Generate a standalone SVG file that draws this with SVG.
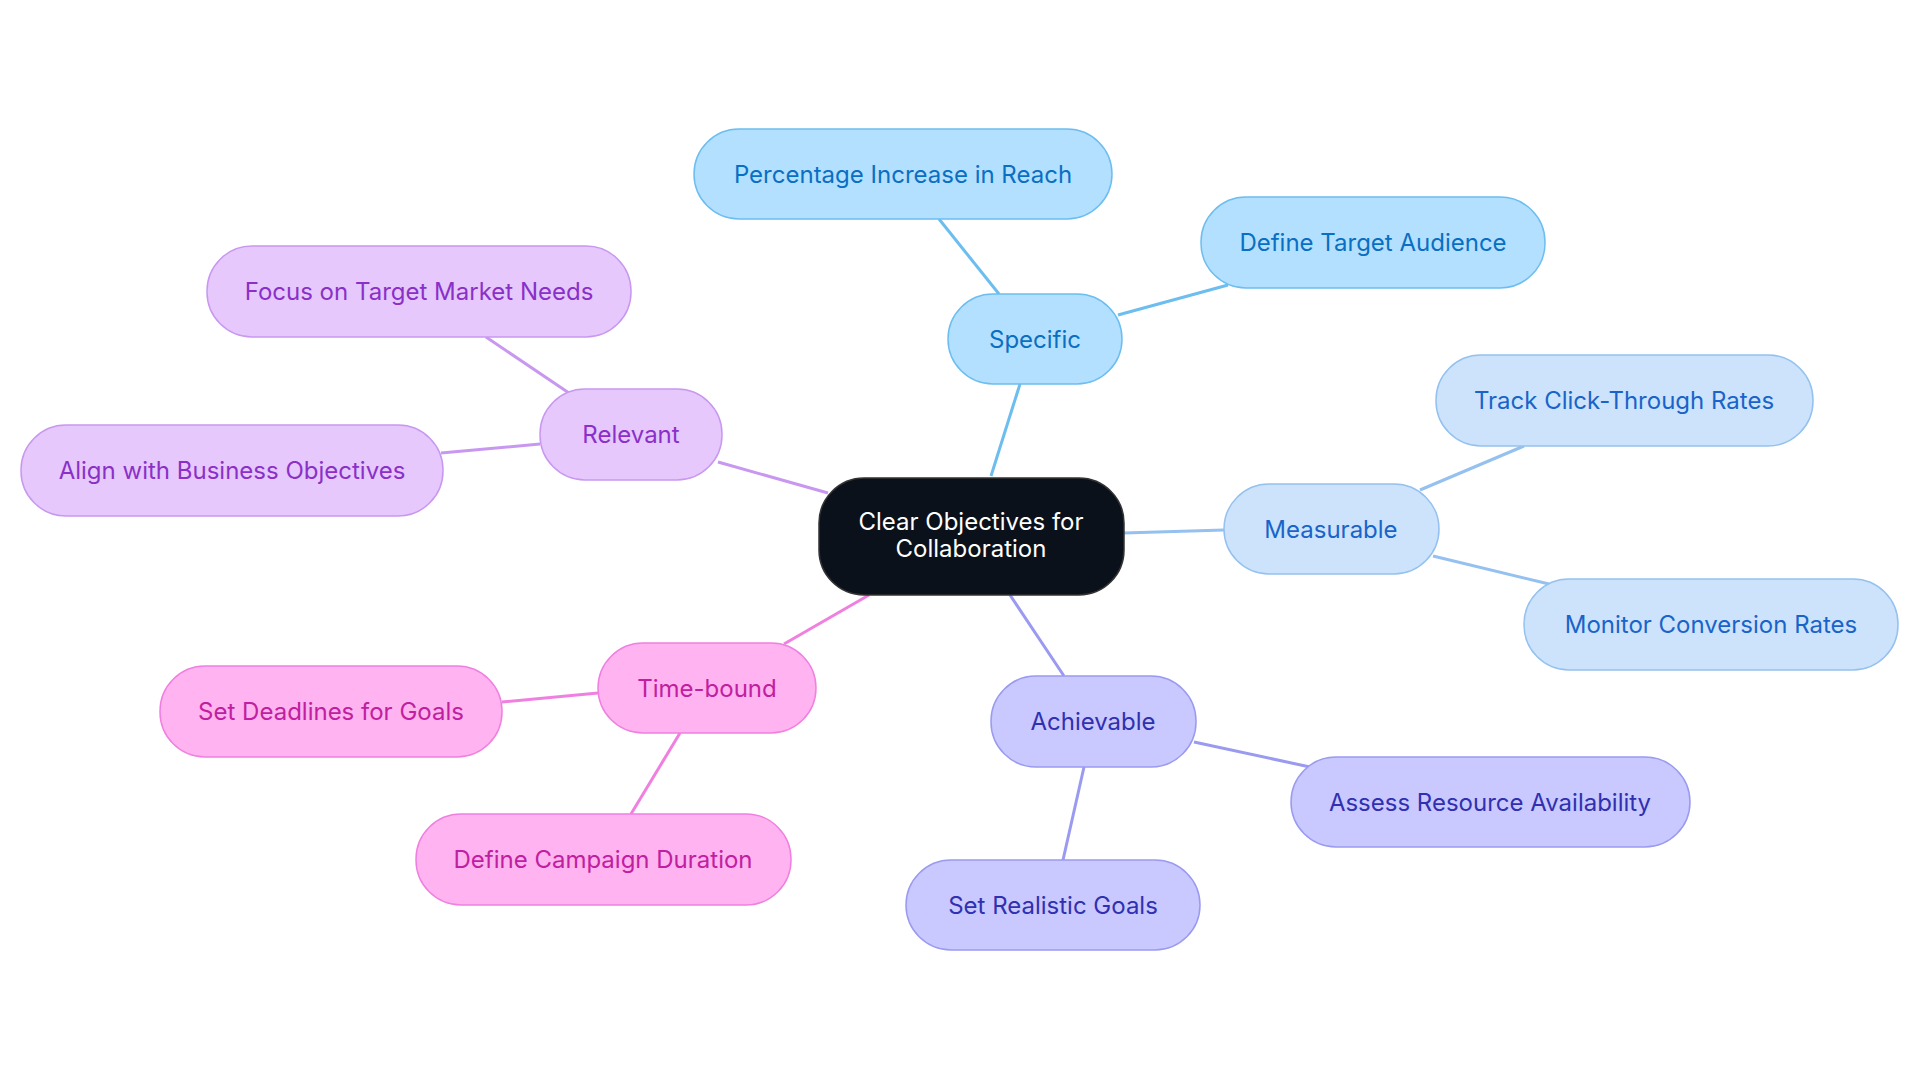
<svg xmlns="http://www.w3.org/2000/svg" width="1920" height="1083" viewBox="0 0 1920 1083">
<style>
text{font-family:Inter,"Noto Sans",sans-serif;font-size:24px;text-anchor:middle;dominant-baseline:central}
.e line{stroke-width:3;fill:none}
.s rect{fill:#b3e0ff;stroke:#6cbdf0}.s text{fill:#0a6fc2}
.m rect{fill:#cce3fb;stroke:#94c1ef}.m text{fill:#1a63c9}
.a rect{fill:#c9c9ff;stroke:#9a9af0}.a text{fill:#3030b0}
.t rect{fill:#ffb3f0;stroke:#f080e0}.t text{fill:#c020a0}
.r rect{fill:#e6c8fc;stroke:#c898f0}.r text{fill:#8a30c8}
rect{stroke-width:1.5}
</style>
<rect width="1920" height="1083" fill="#fff"/>
<g class="e">
<line x1="991" y1="476" x2="1020" y2="384" stroke="#6cbdf0"/>
<line x1="999" y1="294" x2="939" y2="219" stroke="#6cbdf0"/>
<line x1="1118" y1="315" x2="1228" y2="285" stroke="#6cbdf0"/>
<line x1="1124" y1="533" x2="1224" y2="530" stroke="#94c1ef"/>
<line x1="1420" y1="490" x2="1524" y2="446" stroke="#94c1ef"/>
<line x1="1433" y1="556" x2="1549" y2="584" stroke="#94c1ef"/>
<line x1="1010" y1="595" x2="1064" y2="676" stroke="#9a9af0"/>
<line x1="1194" y1="742" x2="1310" y2="767" stroke="#9a9af0"/>
<line x1="1084" y1="767" x2="1063" y2="860" stroke="#9a9af0"/>
<line x1="869" y1="595" x2="784" y2="644" stroke="#f080e0"/>
<line x1="598" y1="693" x2="502" y2="702" stroke="#f080e0"/>
<line x1="680" y1="733" x2="631" y2="814" stroke="#f080e0"/>
<line x1="828" y1="493" x2="718" y2="462" stroke="#c898f0"/>
<line x1="569" y1="393" x2="486" y2="337" stroke="#c898f0"/>
<line x1="540" y1="444" x2="441" y2="453" stroke="#c898f0"/>
</g>
<g id="center"><rect x="819" y="478" width="305" height="117" rx="45" fill="#0b111a" stroke="#333"/><text x="971" y="521" fill="#fff">Clear Objectives for</text><text x="971" y="548" fill="#fff">Collaboration</text></g>
<g id="specific" class="s"><rect x="948" y="294" width="174" height="90" rx="45"/><text x="1035" y="339">Specific</text></g>
<g id="percentage" class="s"><rect x="694" y="129" width="418" height="90" rx="45"/><text x="903" y="174">Percentage Increase in Reach</text></g>
<g id="audience" class="s"><rect x="1201" y="197" width="344" height="91" rx="45"/><text x="1373" y="242">Define Target Audience</text></g>
<g id="measurable" class="m"><rect x="1224" y="484" width="215" height="90" rx="45"/><text x="1331" y="529">Measurable</text></g>
<g id="ctr" class="m"><rect x="1436" y="355" width="377" height="91" rx="45"/><text x="1624" y="400">Track Click-Through Rates</text></g>
<g id="conv" class="m"><rect x="1524" y="579" width="374" height="91" rx="45"/><text x="1711" y="624">Monitor Conversion Rates</text></g>
<g id="achievable" class="a"><rect x="991" y="676" width="205" height="91" rx="45"/><text x="1093" y="721">Achievable</text></g>
<g id="resource" class="a"><rect x="1291" y="757" width="399" height="90" rx="45"/><text x="1490" y="802">Assess Resource Availability</text></g>
<g id="realistic" class="a"><rect x="906" y="860" width="294" height="90" rx="45"/><text x="1053" y="905">Set Realistic Goals</text></g>
<g id="timebound" class="t"><rect x="598" y="643" width="218" height="90" rx="45"/><text x="707" y="688">Time-bound</text></g>
<g id="deadlines" class="t"><rect x="160" y="666" width="342" height="91" rx="45"/><text x="331" y="711">Set Deadlines for Goals</text></g>
<g id="duration" class="t"><rect x="416" y="814" width="375" height="91" rx="45"/><text x="603" y="859">Define Campaign Duration</text></g>
<g id="relevant" class="r"><rect x="540" y="389" width="182" height="91" rx="45"/><text x="631" y="434">Relevant</text></g>
<g id="market" class="r"><rect x="207" y="246" width="424" height="91" rx="45"/><text x="419" y="291">Focus on Target Market Needs</text></g>
<g id="business" class="r"><rect x="21" y="425" width="422" height="91" rx="45"/><text x="232" y="470">Align with Business Objectives</text></g>
</svg>
